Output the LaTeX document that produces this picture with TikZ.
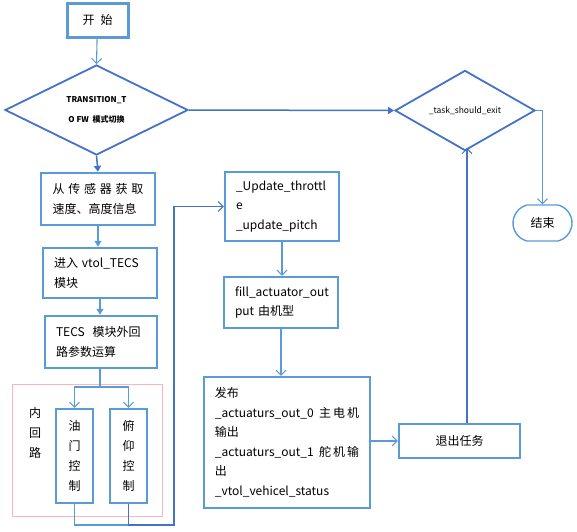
\documentclass[tikz,border=0pt]{standalone}
\usepackage{fontspec}
\setmainfont{Noto Sans CJK SC}
\usetikzlibrary{shapes.geometric,shapes.misc,arrows.meta}
\definecolor{lb}{HTML}{5B9BD5}
\definecolor{db}{HTML}{4472C4}
\definecolor{pk}{HTML}{FFB3BA}
\tikzset{
  box/.style={draw=lb,line width=2.4pt,inner sep=0pt,align=left,font=\fontsize{12}{19.5}\selectfont},
  dia/.style={draw=db,line width=1.8pt,diamond,inner sep=0pt,align=center},
  con/.style={draw=lb,line width=1.1pt},
  dcon/.style={draw=db,line width=1.5pt},
  openarr/.style={-{Straight Barb[length=5pt,width=10pt,line width=1pt]}},
  fillarr/.style={-{Triangle[length=6pt,width=7pt]}}
}
\begin{document}
\begin{tikzpicture}[x=1pt,y=-1pt]
\useasboundingbox (0,0) rectangle (577,531);
% pink inner-loop frame
\draw[pk,line width=0.8pt] (12,384) rectangle (162,516);
\node[font=\fontsize{12}{20}\selectfont,align=center] (inner) at (35,433) {内\\回\\路};
% nodes
\node[box,line width=3pt,minimum width=61pt,minimum height=34pt,align=center] (start) at (97.5,20) {开\hspace{6pt}始};
\node[dia,minimum width=183pt,minimum height=90pt,font=\bfseries\fontsize{8}{20}\selectfont] (d1) at (96.5,110) {\raisebox{-3pt}{TRANSITION\_T}\\[0pt]\raisebox{-3pt}{O FW\ \ 模式切换}};
\node[dia,minimum width=140pt,minimum height=75pt,font=\fontsize{8.5}{10}\selectfont] (d2) at (465,110.5) {\_task\_should\_exit};
\node[draw=lb,line width=1.4pt,rounded rectangle,rounded rectangle arc length=150,minimum width=59pt,minimum height=36pt,font=\fontsize{12}{14}\selectfont,inner sep=0pt] (end) at (542.5,223) {结束};
\node[box,minimum width=114pt,minimum height=52pt,text width=91pt] (sens) at (98,199) {\makebox[91pt][s]{从\hfil 传\hfil 感\hfil 器\hfil 获\hfil 取}\\速度、高度信息};
\node[box,minimum width=114pt,minimum height=50pt,text width=92pt] (vtol) at (100,273) {进入 vtol\_TECS\\模块};
\node[box,minimum width=112pt,minimum height=52pt,text width=90pt] (tecs) at (101,342) {TECS\ \ 模块外回\\路参数运算};
\node[box,minimum width=37pt,minimum height=94pt,align=center,font=\fontsize{12}{20}\selectfont] (thr) at (74.5,456) {油\\门\\控\\制};
\node[box,minimum width=37pt,minimum height=94pt,align=center,font=\fontsize{12}{20}\selectfont] (pit) at (128.5,456) {俯\\仰\\控\\制};
\node[box,minimum width=114pt,minimum height=69pt,text width=92pt] (upd) at (282,206.5) {\_Update\_throttl\\e\\\_update\_pitch};
\node[box,minimum width=114pt,minimum height=51pt,text width=92pt] (fill) at (281,302.5) {fill\_actuator\_out\\put 由机型};
\node[box,minimum width=166pt,minimum height=131pt] (pub) at (287,442.5) {发布\\\_actuaturs\_out\_0\ \ 主\,电\,机\\输出\\\_actuaturs\_out\_1\ \ 舵\,机\,输\\出\\\_vtol\_vehicel\_status};
\node[box,minimum width=121pt,minimum height=34pt,align=center,font=\fontsize{12}{14}\selectfont] (quit) at (459.5,441) {退出任务};
% connectors
\draw[con,openarr] (start) -- (d1.north);
\draw[dcon,fillarr] (d1.south) -- (sens.north);
\draw[con,fillarr] (sens.south) -- (sens.south |- vtol.north);
\draw[con,fillarr] (vtol.south) -- (vtol.south |- tecs.north);
\draw[dcon,fillarr] (d1.east) -- (d2.west);
\draw[con,openarr] (d2.east) -| (end.north);
\coordinate (split) at (100,387);
\draw[con] (tecs.south -| split) -- (split);
\draw[con,openarr] (split) -| (thr.north);
\draw[con,openarr] (split) -| (pit.north);
\coordinate (loopR) at (174,525);
\draw[con] (thr.south) |- (pit.south |- loopR);
\draw[dcon,openarr] (pit.south) |- (loopR) |- (upd.west);
\draw[con,openarr] (upd.south) -- (upd.south |- fill.north);
\draw[con,openarr] (fill.south) -- (fill.south |- pub.north);
\draw[con,openarr] (pub.east |- quit.west) -- (quit.west);
\draw[dcon,openarr] (quit.north -| 467,0) -- (467,148);
\end{tikzpicture}
\end{document}
